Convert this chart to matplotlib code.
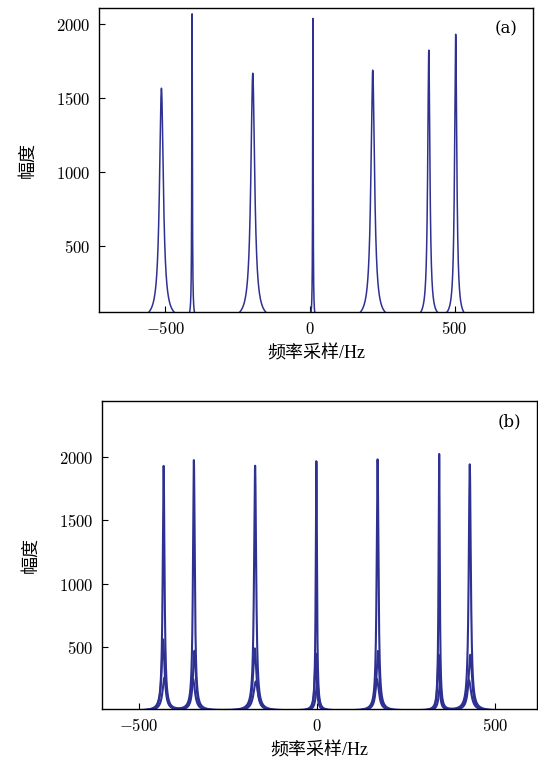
import numpy as np
import matplotlib.pyplot as plt

# pics del panell (a): centre (Hz), alcada, amplada (Hz)
centres_a = [-514, -408, -198, 10, 217, 411, 504]
alcades_a = [1562, 2054, 1663, 2029, 1683, 1813, 1922]
amplades_a = [8.0, 1.2, 8.0, 1.0, 7.5, 4.5, 4.5]

# pics del panell (b): traca principal + traces secundaries
centres_b = [-431, -346, -174, -2, 170, 343, 429]
alcades_b = [1924, 1969, 1927, 1962, 1977, 2017, 1938]
amplades_b = [3.0, 3.0, 3.5, 2.0, 3.0, 2.0, 3.5]
alcades_b2 = [560, 470, 490, 450, 470, 440, 440]
desplac_b2 = [-1.5, 1.5, -1.0, -2.0, 1.0, -2.0, 1.5]
alcades_b3 = [260, 250, 230, 230, 250, 220, 240]
desplac_b3 = [2.5, -2.5, 2.0, 2.5, -2.0, 2.5, -2.5]

COLOR = '#2e3192'
plt.rcParams['mathtext.fontset'] = 'cm'
fam = ['Liberation Serif', 'Noto Sans CJK SC']


def lorentz(x, c, h, g):
    return h / (1 + ((x - c) / g) ** 2)


fig = plt.figure(figsize=(5.38, 7.63), dpi=100)
ax1 = fig.add_axes([0.184, 0.591, 0.807, 0.3985])
ax2 = fig.add_axes([0.189, 0.071, 0.8086, 0.4038])

x = np.linspace(-800, 800, 40001)
ya = np.zeros_like(x)
for c, h, g in zip(centres_a, alcades_a, amplades_a):
    ya += lorentz(x, c, h, g)
ax1.plot(x, ya, color=COLOR, lw=1.1)
ax1.set_xlim(-730, 772)
ax1.set_ylim(53, 2105)

y1 = np.zeros_like(x)
y2 = np.zeros_like(x)
y3 = np.zeros_like(x)
for i in range(len(centres_b)):
    y1 += lorentz(x, centres_b[i], alcades_b[i], amplades_b[i])
    y2 += lorentz(x, centres_b[i] + desplac_b2[i], alcades_b2[i], amplades_b[i] * 1.6)
    y3 += lorentz(x, centres_b[i] + desplac_b3[i], alcades_b3[i], amplades_b[i] * 2.2)
for y in (y3, y2, y1):
    ax2.plot(x, y, color=COLOR, lw=1.5)
ax2.set_xlim(-605, 617)
ax2.set_ylim(15, 2440)

for ax, lab in ((ax1, '(a)'), (ax2, '(b)')):
    ax.set_xticks([-500, 0, 500])
    ax.set_yticks([500, 1000, 1500, 2000])
    ax.xaxis.set_major_formatter(lambda v, p: f'${v:g}$')
    ax.yaxis.set_major_formatter(lambda v, p: f'${v:g}$')
    ax.tick_params(direction='in', labelsize=12, length=4, top=False, right=False, pad=6)
    ax.set_xlabel('频率采样/Hz', family=fam, fontsize=13, labelpad=5)
    ax.set_ylabel('幅度', family=fam, fontsize=13, labelpad=14)
    ax.text(0.965, 0.93, lab, transform=ax.transAxes, ha='right', va='center',
            family='DejaVu Serif', fontsize=12)
    for s in ax.spines.values():
        s.set_linewidth(1.0)

fig.savefig('out.png', dpi=100)
